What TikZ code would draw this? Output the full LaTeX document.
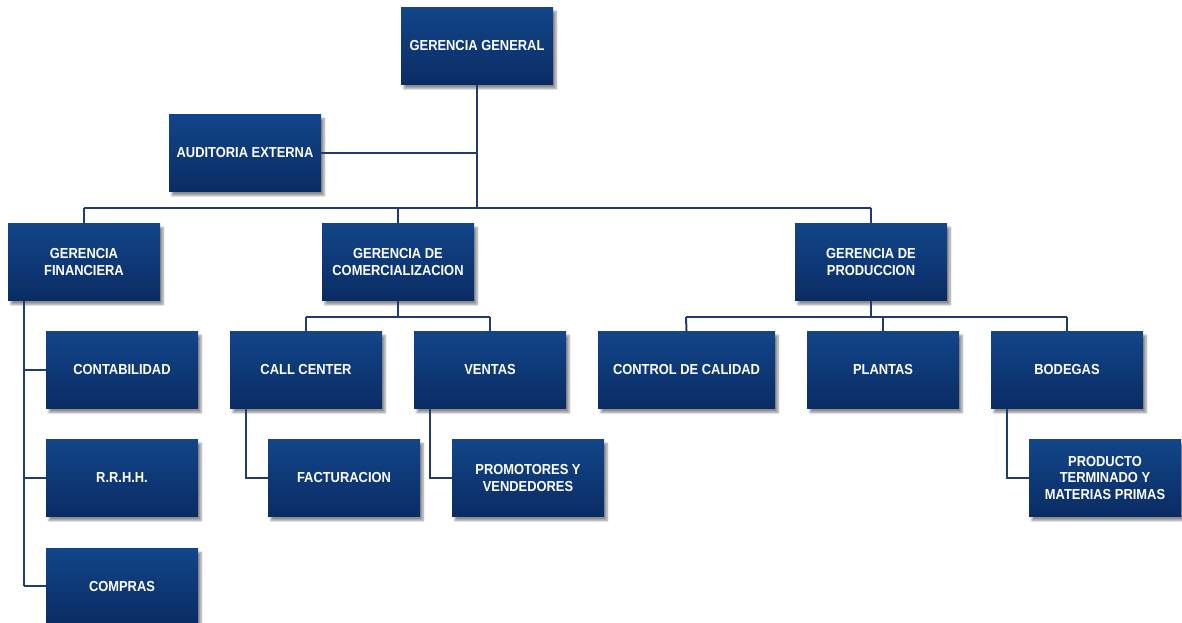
\documentclass[tikz,border=0pt]{standalone}
\usepackage{fontspec}
\setmainfont{Liberation Sans}[FakeStretch=0.89]
\usetikzlibrary{shadows.blur}
\definecolor{boxtop}{HTML}{124589}
\definecolor{boxbot}{HTML}{0A2C64}
\definecolor{linec}{HTML}{203C6C}
\tikzset{
  orgbox/.style={rectangle, minimum width=152pt, minimum height=77pt, inner sep=0pt,
    top color=boxtop, bottom color=boxbot, text=white, align=center,
    font=\fontsize{14.5}{16.5}\selectfont\bfseries,
    blur shadow={shadow xshift=3pt, shadow yshift=-4pt, shadow blur steps=6, shadow opacity=45}},
  conn/.style={draw=linec, line width=2pt}
}
\begin{document}
\begin{tikzpicture}[x=1pt,y=-1pt]
\useasboundingbox (0,0) rectangle (1182,623);
\coordinate (bus) at (477,208);
\coordinate (busL) at (84,208);
\coordinate (busM) at (398,208);
\coordinate (busR) at (871,208);
\coordinate (audj) at (477,153);
\coordinate (cbusL) at (306,317);
\coordinate (cbusR) at (490,317);
\coordinate (cmid) at (398,317);
\coordinate (pbusL) at (686,317);
\coordinate (pbusM) at (883,317);
\coordinate (pbusR) at (1067,317);
\coordinate (pmid) at (871,317);
\coordinate (fend) at (24,586);
\coordinate (fstart) at (24,301);
\coordinate (cc1) at (246,409);
\coordinate (cc2) at (246,478);
\coordinate (v1) at (430,409);
\coordinate (v2) at (430,478);
\coordinate (b1) at (1007,409);
\coordinate (b2) at (1007,478);

\node[orgbox] (gg) at (477,46) {GERENCIA GENERAL};
\node[orgbox] (aud) at (245,153) {AUDITORIA EXTERNA};
\node[orgbox] (gf) at (84,262) {GERENCIA\\FINANCIERA};
\node[orgbox] (gc) at (398,262) {GERENCIA DE\\COMERCIALIZACION};
\node[orgbox] (gp) at (871,262) {GERENCIA DE\\PRODUCCION};
\node[orgbox] (cont) at (122,370) {CONTABILIDAD};
\node[orgbox] (rrhh) at (122,478) {R.R.H.H.};
\node[orgbox] (comp) at (122,587) {COMPRAS};
\node[orgbox] (call) at (306,370) {CALL CENTER};
\node[orgbox] (vent) at (490,370) {VENTAS};
\node[orgbox] (fact) at (344,478) {FACTURACION};
\node[orgbox] (prom) at (528,478) {PROMOTORES Y\\VENDEDORES};
\node[orgbox, minimum width=177pt] (cal) at (686.5,370) {CONTROL DE CALIDAD};
\node[orgbox] (plan) at (883,370) {PLANTAS};
\node[orgbox] (bod) at (1067,370) {BODEGAS};
\node[orgbox] (prod) at (1105,478) {PRODUCTO\\TERMINADO Y\\MATERIAS PRIMAS};

\draw[conn] (gg.south) -- (bus);
\draw[conn] (aud.east) -- (audj);
\draw[conn] (busL) -- (busR);
\draw[conn] (busL) -- (gf.north);
\draw[conn] (busM) -- (gc.north);
\draw[conn] (busR) -- (gp.north);
\draw[conn] (fstart) -- (fend);
\draw[conn] (fstart |- cont.west) -- (cont.west);
\draw[conn] (fstart |- rrhh.west) -- (rrhh.west);
\draw[conn] (fend) -- (fend -| comp.west);
\draw[conn] (gc.south) -- (cmid);
\draw[conn] (cbusL) -- (cbusR);
\draw[conn] (cbusL) -- (call.north);
\draw[conn] (cbusR) -- (vent.north);
\draw[conn] (cc1) -- (cc2) -- (fact.west);
\draw[conn] (v1) -- (v2) -- (prom.west);
\draw[conn] (gp.south) -- (pmid);
\draw[conn] (pbusL) -- (pbusR);
\draw[conn] (pbusL) -- (cal.north);
\draw[conn] (pbusM) -- (plan.north);
\draw[conn] (pbusR) -- (bod.north);
\draw[conn] (b1) -- (b2) -- (prod.west);
\end{tikzpicture}
\end{document}
